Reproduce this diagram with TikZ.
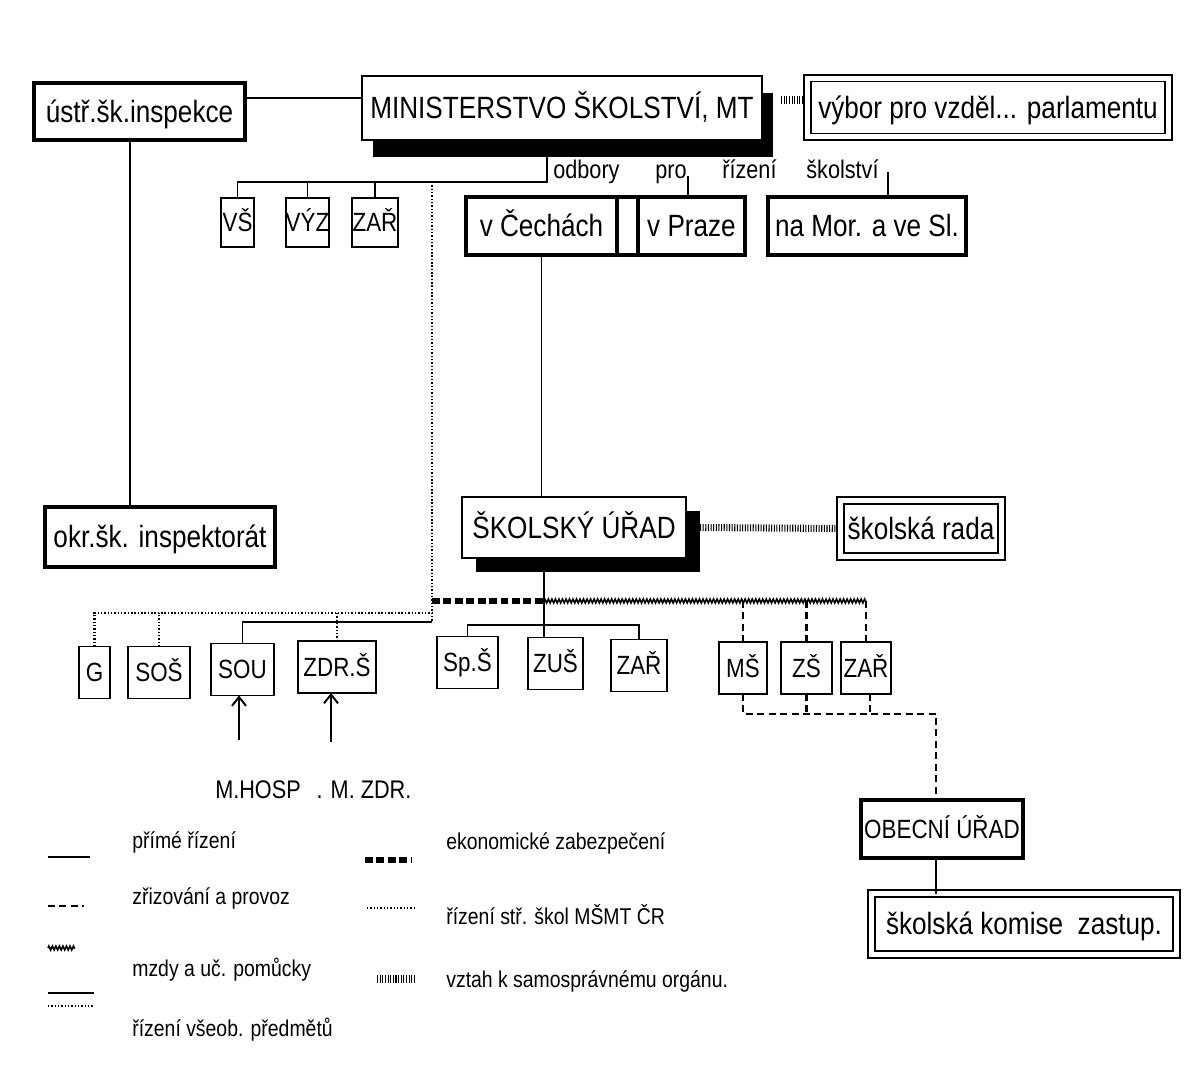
\documentclass[tikz,border=0pt]{standalone}
\usepackage{fontspec}
\setmainfont{Liberation Sans}[FakeStretch=0.85]
\usetikzlibrary{arrows.meta,shadows,decorations.pathmorphing}

\tikzset{
  box/.style={draw, line width=1.1pt, inner sep=0pt, outer sep=0pt, text height=10.7pt, text depth=0pt,
    font=\fontsize{15}{17}\selectfont},
  bigtext/.style={text height=12.5pt, font=\fontsize{17.5}{20}\selectfont},
  thickbox/.style={box, bigtext, line width=2.2pt},
  dblbox/.style={box, bigtext, double, double distance=0.1cm, line width=1.1pt},
  shadowbox/.style 2 args={box, bigtext, fill=white,
    drop shadow={shadow xshift=#1, shadow yshift=#2, fill=black, opacity=1}},
  txt/.style={inner sep=0pt, font=\fontsize{14.5}{17}\selectfont},
  legtxt/.style={anchor=west, inner sep=0pt, font=\fontsize{13}{16}\selectfont},
  primeline/.style={line width=1.1pt},
  zrizline/.style={line width=1.2pt, dash pattern=on 4pt off 2.5pt},
  stredline/.style={line width=1.5pt, dash pattern=on 0.8pt off 1.1pt},
  ekonline/.style={line width=3.2pt, dash pattern=on 4.5pt off 2pt},
  samoline/.style={line width=4pt, dash pattern=on 0.6pt off 0.9pt},
  mzdyline/.style={line width=0.9pt, decorate, decoration={zigzag, segment length=2pt, amplitude=1.1pt}},
  arrline/.style={line width=1.1pt, -{Straight Barb[length=5pt, width=8pt]}}
}

\begin{document}
\begin{tikzpicture}[x=0.02cm, y=-0.02cm]
  \useasboundingbox (0,0) rectangle (1203,1067);

  % ministerstvo
  \node[thickbox, minimum width=4.22cm, minimum height=1.14cm] (ustr) at (139.5,111.5) {ústř.šk.inspekce};
  \node[shadowbox={0.22cm}{-0.34cm}, minimum width=8cm, minimum height=1.28cm] (mt) at (562,108) {MINISTERSTVO ŠKOLSTVÍ, MT};
  \node[dblbox, minimum width=7.23cm, minimum height=1.18cm] (vybor) at (988,107.5) {výbor pro vzděl... parlamentu};

  \begin{scope}[every node/.style={box, minimum height=0.98cm}]
    \node[minimum width=0.66cm] (vs)   at (237.5,222.5) {VŠ};
    \node[minimum width=0.86cm] (vyz)  at (307.5,222.5) {VÝZ};
    \node[minimum width=0.92cm] (zar1) at (375,222.5)   {ZAŘ};
  \end{scope}

  \begin{scope}[every node/.style={thickbox, minimum height=1.16cm}]
    \node[minimum width=3.02cm] (cechy)  at (541.5,226) {v Čechách};
    \node[minimum width=2.14cm] (praha)  at (691.5,226) {v Praze};
    \node[minimum width=3.96cm] (morava) at (867,226)   {na Mor. a ve Sl.};
  \end{scope}
  \draw[line width=2.2pt] (cechy.north east) -- (praha.north west);
  \draw[line width=2.2pt] (cechy.south east) -- (praha.south west);

  \begin{scope}[every node/.style={txt, anchor=base west}]
    \node (odb1) at (553,179) {odbory};
    \node (odb2) at (655,179) {pro};
    \node (odb3) at (722,179) {řízení};
    \node (odb4) at (806,179) {školství};
  \end{scope}

  % okres
  \node[thickbox, minimum width=4.6cm, minimum height=1.2cm] (okr) at (160,537) {okr.šk. inspektorát};
  \node[shadowbox={0.28cm}{-0.28cm}, minimum width=4.48cm, minimum height=1.22cm] (skolsky) at (574,527.5) {ŠKOLSKÝ ÚŘAD};
  \node[dblbox, minimum width=3.22cm, minimum height=1.12cm] (rada) at (921,528.5) {školská rada};

  \begin{scope}[every node/.style={box, minimum height=1.04cm}]
    \node[minimum width=0.62cm] (g)    at (94.5,672.5)  {G};
    \node[minimum width=1.24cm] (sos)  at (159,672.5)   {SOŠ};
    \node[minimum width=1.26cm] (sou)  at (242.5,669.5) {SOU};
    \node[minimum width=1.56cm] (zdr)  at (337,667)     {ZDR.Š};
    \node[minimum width=1.22cm] (sps)  at (467.5,662.5) {Sp.Š};
    \node[minimum width=1.1cm]  (zus)  at (555.5,663.5) {ZUŠ};
    \node[minimum width=1.12cm] (zar2) at (639,665.5)   {ZAŘ};
    \node[minimum width=0.96cm] (ms)   at (743,668)     {MŠ};
    \node[minimum width=1.02cm] (zs)   at (806.5,668)   {ZŠ};
    \node[minimum width=1.0cm]  (zar3) at (866,668)     {ZAŘ};
  \end{scope}

  \node[txt] (mhosp)  at (258,790) {M.HOSP};
  \node[txt] (mzdrav) at (364,790) {. M. ZDR.};

  % obec
  \node[thickbox, minimum width=3.24cm, minimum height=1.16cm, text height=10.7pt, font=\fontsize{15}{18}\selectfont] (obec) at (942,829) {OBECNÍ ÚŘAD};
  \node[dblbox, minimum width=6.1cm, minimum height=1.22cm] (komise) at (1024,924) {školská komise\ \ zastup.};

  % spoje
  \coordinate (odb) at (547,182);
  \coordinate (proh) at (688,176);
  \coordinate (skh) at (888,172);
  \draw[primeline] ([yshift=0.27cm]ustr.east) -- ([yshift=0.27cm]ustr.east -| mt.west);
  \draw[samoline] ([xshift=0.38cm, yshift=0.16cm]mt.east) -- ([xshift=-0.08cm, yshift=0.16cm]mt.east -| vybor.west);
  \draw[primeline] (mt.south -| odb) -- (odb) -| (vs.north);
  \draw[primeline] (vyz.north) -- (vyz.north |- odb);
  \draw[primeline] (zar1.north) -- (zar1.north |- odb);
  \draw[primeline] (proh) -- (proh |- praha.north);
  \draw[primeline] (skh) -- (skh |- morava.north);
  \draw[primeline] (cechy.south) -- (cechy.south |- skolsky.north);
  \draw[primeline] ([xshift=-0.19cm]ustr.south) -- ([xshift=-0.19cm]ustr.south |- okr.north);
  \draw[samoline] ([xshift=0.28cm]skolsky.east) -- ([xshift=-0.08cm]rada.west);

  \coordinate (stf) at (432,182);
  \coordinate (stm) at (432,613);
  \coordinate (stb) at (432,622);
  \draw[stredline] (stf) -- (stb);
  \draw[stredline] (g.north) |- (stm);
  \draw[stredline] (sos.north) -- (sos.north |- stm);
  \draw[stredline] (zdr.north) -- (zdr.north |- stm);
  \draw[primeline] (sou.north) |- (stb);

  \coordinate (junc) at (544,601);
  \coordinate (spl) at (0,625);
  \draw[ekonline] (stm |- junc) -- (junc);
  \draw[mzdyline] (junc) -- (zar3.north |- junc);
  \draw[zrizline] (ms.north) -- (ms.north |- junc);
  \draw[zrizline] (zs.north) -- (zs.north |- junc);
  \draw[zrizline] (zar3.north) -- (zar3.north |- junc);
  \draw[primeline] (skolsky.south -| junc) -- (junc |- zus.north);
  \draw[primeline] (sps.north) |- (spl -| zar2.north) -- (zar2.north);

  \coordinate (obl) at (936,714);
  \draw[zrizline] (ms.south) |- (obl) -- (obl |- obec.north);
  \draw[zrizline] (zs.south) -- (zs.south |- obl);
  \draw[zrizline] ([xshift=0.08cm]zar3.south) -- ([xshift=0.08cm]zar3.south |- obl);
  \draw[primeline] (obl |- obec.south) -- (obl |- komise.north);

  \coordinate (hosp) at (239,740);
  \coordinate (zdra) at (331,742);
  \draw[arrline] (hosp) -- (hosp |- sou.south);
  \draw[arrline] (zdra) -- (zdra |- zdr.south);

  % legenda
  \draw[primeline] (48,857) -- (90,857);
  \draw[zrizline] (48,906) -- (84,906);
  \draw[mzdyline] (48,948) -- (75,948);
  \draw[primeline] (48,993) -- (94,993);
  \draw[stredline] (48,1006) -- (94,1006);
  \draw[ekonline] (365,860) -- (411,860);
  \draw[stredline] (367,908) -- (417,908);
  \draw[samoline] (377,979) -- (415,979);
  \begin{scope}[every node/.style={legtxt}]
    \node (leg1) at (132,842)  {přímé řízení};
    \node (leg2) at (132,898)  {zřizování a provoz};
    \node (leg3) at (132,970)  {mzdy a uč. pomůcky};
    \node (leg4) at (132,1030) {řízení všeob. předmětů};
    \node (leg5) at (446,843)  {ekonomické zabezpečení};
    \node (leg6) at (446,915)  {řízení stř. škol MŠMT ČR};
    \node (leg7) at (446,981)  {vztah k samosprávnému orgánu.};
  \end{scope}

\end{tikzpicture}
\end{document}
